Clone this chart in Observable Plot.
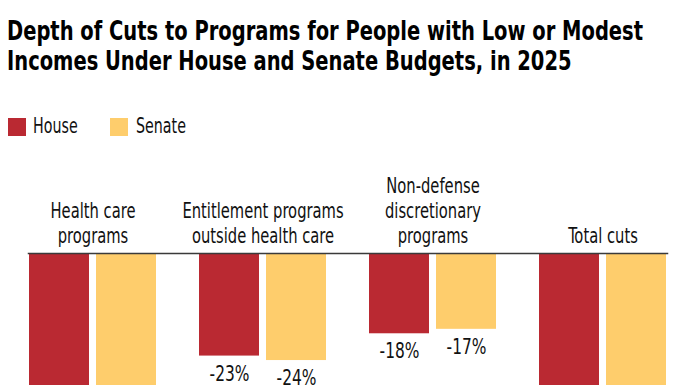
<!DOCTYPE html>
<html>
<head>
<meta charset="utf-8">
<script src="https://cdn.jsdelivr.net/npm/d3@7"></script>
<script src="https://cdn.jsdelivr.net/npm/@observablehq/plot@0.6"></script>
<style>
  html, body { margin: 0; padding: 0; background: #fff; }
  body { width: 696px; height: 385px; overflow: hidden; position: relative;
         font-family: "DejaVu Sans Condensed", sans-serif; color: #111; }
  #title { position: absolute; left: 7px; top: 16px; font-size: 27px; line-height: 30px; font-weight: bold; margin: 0; white-space: nowrap; transform-origin: 0 0; color: #000; }
  #title span { display: inline-block; }
  #legend { position: absolute; left: 8px; top: 113px; font-size: 22px; }
  .sw { position: absolute; width: 18px; height: 18px; }
  .lt { position: absolute; white-space: nowrap; line-height: 26px; transform-origin: 0 0; transform: scaleX(0.72); }
  #chart { position: absolute; left: 0; top: 160px; }
</style>
</head>
<body>
<h1 id="title"><span id="t1">Depth of Cuts to Programs for People with Low or Modest</span><br><span>Incomes Under House and Senate Budgets, in 2025</span></h1>
<div id="legend"></div>
<div id="chart"></div>
<script>
const categories = [
  "Health care\nprograms",
  "Entitlement programs\noutside health care",
  "Non-defense\ndiscretionary\nprograms",
  "Total cuts"
];
const chambers = ["House", "Senate"];
const house = [-43, -23, -18, -32];
const senate = [-41, -24, -17, -31];
const colors = ["#BA2932", "#FECD6C"];

const data = categories.flatMap((c, i) => [
  {category: c, chamber: chambers[0], value: house[i]},
  {category: c, chamber: chambers[1], value: senate[i]}
]);

// title: condense horizontally to the reference's width
const t1 = document.getElementById("t1");
const tw = t1.getBoundingClientRect().width;
document.getElementById("title").style.transform = `scaleX(${636 / tw})`;

// legend
const legend = document.getElementById("legend");
const legendX = [[0, 25], [102, 128]];
chambers.forEach((name, i) => {
  const sw = document.createElement("div");
  sw.className = "sw";
  sw.style.left = legendX[i][0] + "px";
  sw.style.top = "5px";
  sw.style.background = colors[i];
  legend.appendChild(sw);
  const t = document.createElement("div");
  t.className = "lt";
  t.style.left = legendX[i][1] + "px";
  t.style.top = "0px";
  t.textContent = name;
  legend.appendChild(t);
});

const font = "'DejaVu Sans Condensed', sans-serif";
const top0 = 93;
const chart = Plot.plot({
  width: 696,
  height: 420,
  marginTop: top0,
  marginLeft: 6,
  marginRight: 7,
  marginBottom: 0,
  style: {fontFamily: font, color: "#111", background: "transparent"},
  y: {domain: [-50, 0], range: [top0 + 223, top0], axis: null},
  fx: {domain: categories, paddingInner: 0.2417, paddingOuter: 0.119, axis: null},
  x: {domain: chambers, paddingInner: 0.1, paddingOuter: 0, axis: null},
  color: {domain: chambers, range: colors},
  marks: [
    Plot.barY(data, {fx: "category", x: "chamber", y: "value", fill: "chamber"}),
    Plot.frame({facet: "super", anchor: "top", stroke: "#3a3a3a", strokeWidth: 1.5}),
    Plot.text(categories, {fx: d => d, y: 0, text: d => d, lineAnchor: "bottom", dy: -11, fontSize: 21, lineHeight: 1.17, fill: "#111", className: "cat"}),
    Plot.text(data, {fx: "category", x: "chamber", y: "value", text: d => `${d.value}%`, lineAnchor: "top", dy: 9, fontSize: 22, fill: "#111", className: "val"})
  ]
});
// condense SVG text horizontally around each text's own anchor
d3.select(chart).selectAll("text").each(function() {
  const tr = this.getAttribute("transform") || "";
  this.setAttribute("transform", tr + " scale(0.78,1)");
});
document.getElementById("chart").appendChild(chart);
</script>
</body>
</html>
